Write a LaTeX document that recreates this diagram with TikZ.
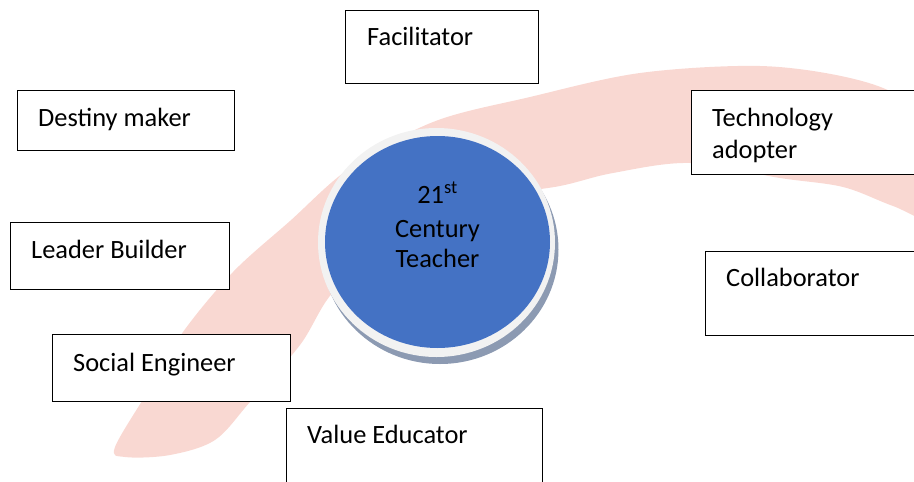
\documentclass[tikz,border=0pt]{standalone}
\usepackage{fontspec}
\setmainfont{Carlito}
\usetikzlibrary{shapes.geometric}
\definecolor{wm}{RGB}{249,216,210}
\definecolor{ofblue}{RGB}{68,114,196}
\definecolor{ringgrey}{RGB}{242,242,242}
\definecolor{shad}{RGB}{140,154,178}
\begin{document}
\begin{tikzpicture}[x=1pt,y=-1pt,
  rolebox/.style={draw=black,line width=1.4pt,fill=white,rectangle,inner sep=0pt,anchor=north west},
  roletext/.style={anchor=base west,inner sep=0pt,font=\fontsize{26.4}{32}\selectfont},
  hubtext/.style={anchor=base,inner sep=0pt,font=\fontsize{26.4}{32}\selectfont}]
\useasboundingbox (0,0) rectangle (914,482);
\clip (0,0) rectangle (914,482);
% watermark swoosh
\fill[wm] plot[smooth cycle, tension=0.55] coordinates {
 (115,447) (150,388) (183,332) (233,272) (290,221) (350,168) (433,122) (530,97)
 (640,73) (760,66) (850,78) (905,100) (950,150) (950,225) (893,206) (843,187)
 (780,178) (690,163) (613,173) (560,186) (480,200) (400,240) (335,290) (300,345)
 (250,402) (215,440) (170,455) (125,457)};
% boxes
\node[rolebox,minimum width=193,minimum height=73] (fac) at (345,10) {};
\node[rolebox,minimum width=217,minimum height=60] (des) at (17,90) {};
\node[rolebox,minimum width=240,minimum height=84] (tec) at (691,90) {};
\node[rolebox,minimum width=219,minimum height=67] (lea) at (10,222) {};
\node[rolebox,minimum width=230,minimum height=84] (col) at (705,251) {};
\node[rolebox,minimum width=238,minimum height=67] (soc) at (52,334) {};
\node[rolebox,minimum width=256,minimum height=90] (val) at (286,408) {};
% texts
\node[roletext] (facT) at (367,45) {Facilitator};
\node[roletext] (desT) at (38,126) {Destiny maker};
\node[roletext] (tecT1) at (712,126) {Technology};
\node[roletext] (tecT2) at (712,158) {adopter};
\node[roletext] (leaT) at (31,258) {Leader Builder};
\node[roletext] (colT) at (726,286) {Collaborator};
\node[roletext] (socT) at (73,371) {Social Engineer};
\node[roletext] (valT) at (307,443) {Value Educator};
% central circle
\fill[shad] (440,249.5) ellipse [x radius=118.5, y radius=114.5];
\fill[ringgrey] (436.5,242.5) ellipse [x radius=118.5, y radius=114.5];
\node[ellipse,fill=ofblue,minimum width=225,minimum height=212,inner sep=0pt] (hub) at (437.5,242) {};
\node[hubtext] (hubT1) at (437.5,203) {21\textsuperscript{st}};
\node[hubtext] (hubT2) at (437.5,237) {Century};
\node[hubtext] (hubT3) at (437.5,267) {Teacher};
\end{tikzpicture}
\end{document}
